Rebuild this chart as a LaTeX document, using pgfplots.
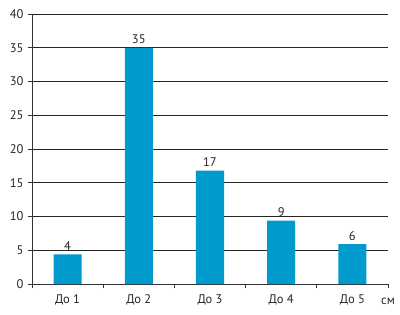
\documentclass[border=0pt]{standalone}
\usepackage{fontspec}
\setmainfont{PT Sans}
\usepackage{pgfplots}
\pgfplotsset{compat=1.18}
\definecolor{barblue}{RGB}{0,154,204}
\begin{document}
\begin{tikzpicture}
\begin{axis}[
  scale only axis,
  width=356bp, height=270bp,
  xmin=0.5, xmax=5.5,
  ymin=0, ymax=40,
  ytick={0,5,...,40},
  xtick={0.5,1.5,2.5,3.5,4.5,5.5},
  x tick label as interval,
  xticklabels={До 1,До 2,До 3,До 4,До 5},
  axis x line=bottom, axis y line=left,
  axis line style={-, thick, black!80},
  tick style={black!80, thick},
  tick align=outside,
  major tick length=4bp,
  ymajorgrids,
  grid style={black!85, thick},
  tick label style={font=\fontsize{12.5bp}{14bp}\selectfont, text=black!85},
  /pgf/number format/assume math mode=true,
  xticklabel style={yshift=-3bp},
  yticklabel style={xshift=-1bp},
  ybar, bar width=28bp,
  nodes near coords,
  point meta=explicit symbolic,
  every node near coord/.append style={font=\fontsize{12.5bp}{14bp}\selectfont, text=black!85, yshift=0.5bp},
  clip=false,
]
\addplot[fill=barblue, draw=none] table[meta=lab] {
x y lab
1 4.4 4
2 35.0 35
3 16.8 17
4 9.4 9
5 5.9 6
};
\node[font=\fontsize{12.5bp}{14bp}\selectfont, text=black!85, anchor=base] at ([yshift=-20bp]rel axis cs:1,0) {см};
\path (rel axis cs:0,0) ++(-32bp,-31bp);
\path (rel axis cs:1,1) ++(12bp,14bp);
\end{axis}
\end{tikzpicture}
\end{document}
